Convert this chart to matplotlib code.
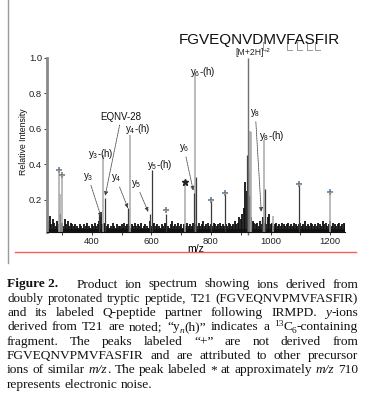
import matplotlib
matplotlib.use("Agg")
import matplotlib.pyplot as plt
import numpy as np
from matplotlib.lines import Line2D

plt.rcParams['font.family'] = ['Liberation Sans', 'DejaVu Sans']

W, H = 369, 397

# ---------------- data ----------------
noise_start, noise_step = 250, 5
noise_h = [
    0.10, 0.08, 0.11, 0.06, 0.09, 0.07, 0.05, 0.08, 0.06, 0.12, 0.07, 0.05, 0.09, 0.06, 0.08, 0.05, 0.07, 0.06, 0.05, 0.06,
    0.05, 0.04, 0.06, 0.05, 0.04, 0.06, 0.05, 0.07, 0.05, 0.04, 0.06, 0.05, 0.07, 0.05, 0.06, 0.08, 0.13, 0.06, 0.07, 0.06,
    0.05, 0.06, 0.04, 0.05, 0.07, 0.05, 0.04, 0.06, 0.05, 0.05, 0.06, 0.04, 0.07, 0.05, 0.06, 0.05, 0.04, 0.06, 0.05, 0.07,
    0.05, 0.06, 0.05, 0.07, 0.04, 0.05, 0.06, 0.05, 0.04, 0.08, 0.05, 0.06, 0.07, 0.05, 0.06, 0.05, 0.04, 0.06, 0.05, 0.07,
    0.06, 0.05, 0.04, 0.06, 0.08, 0.05, 0.06, 0.05, 0.07, 0.05, 0.06, 0.04, 0.06, 0.05, 0.07, 0.05, 0.06, 0.05, 0.07, 0.06,
    0.06, 0.05, 0.07, 0.05, 0.06, 0.08, 0.05, 0.06, 0.07, 0.05, 0.06, 0.05, 0.07, 0.06, 0.05, 0.06, 0.07, 0.05, 0.06, 0.05,
    0.06, 0.05, 0.07, 0.06, 0.05, 0.06, 0.08, 0.06, 0.07, 0.10, 0.09, 0.12, 0.15, 0.30, 0.25, 0.20, 0.22, 0.10, 0.08, 0.07,
    0.06, 0.07, 0.05, 0.08, 0.06, 0.10, 0.07, 0.06, 0.10, 0.12, 0.06, 0.07, 0.05, 0.06, 0.07, 0.05, 0.06, 0.05, 0.07, 0.06,
    0.05, 0.06, 0.07, 0.05, 0.06, 0.05, 0.07, 0.06, 0.05, 0.06, 0.07, 0.05, 0.06, 0.08, 0.05, 0.06, 0.05, 0.07, 0.06, 0.05,
    0.06, 0.05, 0.07, 0.06, 0.05, 0.08, 0.06, 0.07, 0.05, 0.06, 0.08, 0.05, 0.07, 0.06, 0.05, 0.06, 0.07, 0.05, 0.06, 0.07, 0.06,
]
noise_mz = noise_start + noise_step * np.arange(len(noise_h))
noise_floor = 0.036

# light (13C-labelled / gray) peaks
light_mz = [289, 292, 301, 439, 527, 713, 748, 930, 934, 978, 1201, 1010]
light_int = [0.35, 0.23, 0.32, 0.45, 0.565, 0.29, 0.915, 0.59, 0.58, 0.535, 0.225, 0.11]
# dark peaks
dark_mz = [426, 443, 523, 594, 602, 648, 742, 750, 802, 847, 920, 926, 971, 980, 1095]
dark_int = [0.12, 0.21, 0.15, 0.12, 0.37, 0.12, 0.24, 0.33, 0.19, 0.23, 0.45, 0.36, 0.09, 0.26, 0.28]
# precursor
prec_mz = [923]
prec_int = [1.0]

plus_mz = [289, 301, 648, 802, 847, 1095, 1201]
plus_int = [0.37, 0.34, 0.14, 0.20, 0.24, 0.29, 0.245]
star_mz, star_int = [713], [0.30]

# annotations: text, label position (mz, int), arrow target or None
labels = [
    ("EQNV-28", (499, 0.665), (445, 0.22)),
    ("y$\\mathregular{_4}$-(h)", (556, 0.60), None),
    ("y$\\mathregular{_3}$-(h)", (432, 0.46), None),
    ("y$\\mathregular{_5}$-(h)", (630, 0.395), None),
    ("y$\\mathregular{_3}$", (388, 0.33), (432, 0.10)),
    ("y$\\mathregular{_4}$", (482, 0.32), (522, 0.15)),
    ("y$\\mathregular{_5}$", (549, 0.29), (590, 0.13)),
    ("y$\\mathregular{_6}$", (710, 0.49), (741, 0.25)),
    ("y$\\mathregular{_6}$-(h)", (774, 0.92), None),
    ("y$\\mathregular{_8}$", (949, 0.69), (969, 0.13)),
    ("y$\\mathregular{_8}$-(h)", (1006, 0.56), None),
]

xticks_major = [400, 600, 800, 1000, 1200]
xticks_minor = [300, 500, 700, 900, 1100]
yticks = [0.2, 0.4, 0.6, 0.8, 1.0]

# ---------------- figure ----------------
fig = plt.figure(figsize=(W / 100, H / 100), dpi=100)
ax = fig.add_axes([47 / W, 1 - 232 / H, (345 - 47) / W, (232 - 58) / H])

ax.axhspan(0, noise_floor, color='#111111', lw=0)
ax.vlines(noise_mz, 0, noise_h, color='#111111', lw=1.3)
ax.vlines(light_mz, 0, light_int, color='#a8a8a8', lw=1.1)
ax.vlines(dark_mz, 0, dark_int, color='#3a3a3a', lw=0.9)
ax.vlines(prec_mz, 0, prec_int, color='#707070', lw=1.0, clip_on=False)

ax.plot(plus_mz, plus_int, ls='none', marker='+', ms=4.5, mew=1.1, color='#4a78a8', clip_on=False)
ax.plot(plus_mz, plus_int, ls='none', marker='_', ms=3.5, mew=0.9, color='#d08a40', clip_on=False)
ax.plot(star_mz, star_int, ls='none', marker='*', ms=4.5, color='#222222', clip_on=False)

for txt, pos, tgt in labels:
    if tgt is None:
        ax.text(pos[0], pos[1], txt, fontsize=7, ha='center', va='center', color='#111111')
    else:
        ax.annotate(txt, xy=tgt, xytext=pos, fontsize=7, ha='center', va='center', color='#111111',
                    arrowprops=dict(arrowstyle='-|>,head_length=0.35,head_width=0.15', linestyle=(0, (1, 1)),
                                    lw=0.6, color='#444444', shrinkA=0, shrinkB=0))

# precursor label: "[M+2H]" plus raised "+2"
ax.text(976, 1.003, "[M+2H]", fontsize=6.2, ha='right', va='bottom', color='#222222', clip_on=False)
ax.text(978, 1.027, "+2", fontsize=4.3, ha='left', va='bottom', color='#222222', clip_on=False)

ax.set_xlim(250, 1250)
ax.set_ylim(0.017, 1.0)
ax.set_xticks(xticks_major)
ax.set_xticklabels([str(v) for v in xticks_major])
ax.set_xticks(xticks_minor, minor=True)
ax.set_yticks(yticks)
ax.set_yticklabels([f"{v:.1f}" for v in yticks])
ax.tick_params(axis='both', which='both', labelsize=6.8, length=2, width=0.6, pad=1.5, colors='#222222')
for s in ['top', 'right']:
    ax.spines[s].set_visible(False)
ax.spines['left'].set_color('#8a8a8a')
ax.spines['left'].set_linewidth(2.0)
ax.spines['bottom'].set_color('#111111')
ax.spines['bottom'].set_linewidth(0.8)
ax.set_xlabel('m/z', fontsize=7.6, labelpad=-1.5)
fig.text(23 / W, 1 - 142 / H, 'Relative Intensity', fontsize=6.3, rotation=90, ha='center', va='center', color='#111111')

# title sequence
fig.text(259 / W, 1 - 44 / H, 'FGVEQNVDMVFASFIR', fontsize=11, ha='center', va='baseline', color='#111111')
for xl in [263, 287, 297, 307, 315]:
    fig.add_artist(Line2D([xl / W, xl / W, (xl + 5) / W], [1 - 42 / H, 1 - 49.5 / H, 1 - 49.5 / H],
                          transform=fig.transFigure, color='#999999', lw=0.7))

# page decorations
fig.add_artist(Line2D([8 / W, 8 / W], [1, 1 - 263 / H], transform=fig.transFigure, color='#9a9a9a', lw=1.0))
fig.add_artist(Line2D([15 / W, 356 / W], [1 - 252 / H, 1 - 252 / H], transform=fig.transFigure, color='#ff5a5a', lw=1.0))

# caption (justified).  Each word is a list of pieces: (text, style, weight, scale, dy_px)
def P(s, style='normal', weight='normal', scale=1.0, dy=0.0):
    return (s, style, weight, scale, dy)

def plain(line):
    return [[P(w)] for w in line.split()]

cap_lines = [
    [[P("Figure 2.", weight='bold')]] + plain("Product ion spectrum showing ions derived from"),
    plain("doubly protonated tryptic peptide, T21 (FGVEQNVPMVFASFIR)"),
    plain("and its labeled Q-peptide partner following IRMPD.") + [[P("y", style='italic'), P("-ions")]],
    plain("derived from T21 are noted;")
    + [[P("\u201cy"), P("n", style='italic', scale=0.7, dy=-2.5), P("(h)\u201d")]]
    + plain("indicates a")
    + [[P("13", scale=0.7, dy=4.0), P("C"), P("6", scale=0.7, dy=-2.5), P("-containing")]],
    plain("fragment. The peaks labeled \u201c+\u201d are not derived from"),
    plain("FGVEQNVPMVFASFIR and are attributed to other precursor"),
    plain("ions of similar") + [[P("m/z", style='italic'), P(".")]] + plain("The peak labeled * at approximately")
    + [[P("m/z", style='italic')]] + plain("710"),
    plain("represents electronic noise."),
]
baselines = [287.5, 301.8, 316.1, 330.4, 344.7, 359.0, 373.3, 387.6]
x0, x1 = 7, 358
min_gap = 3.0
renderer = fig.canvas.get_renderer()


def build(words, yb, fs):
    objs = []
    for word in words:
        pieces = []
        for s, st, wt, sc, dy in word:
            t = fig.text(0, 1 - (yb - dy) / H, s, fontsize=fs * sc, family='Liberation Serif', style=st,
                         weight=wt, va='baseline', ha='left', color='#111111')
            pieces.append((t, t.get_window_extent(renderer).width))
        objs.append(pieces)
    return objs


for li, (words, yb) in enumerate(zip(cap_lines, baselines)):
    fs = 9.6
    extra = 12 if li == 0 else 0
    last = li == len(cap_lines) - 1
    while True:
        objs = build(words, yb, fs)
        widths = [sum(w for _, w in pcs) for pcs in objs]
        if last:
            gap = 3.4
            break
        gap = (x1 - x0 - sum(widths) - extra) / (len(objs) - 1)
        if gap >= min_gap or fs < 7:
            break
        for pcs in objs:
            for t, _ in pcs:
                t.remove()
        fs -= 0.1
    x = x0
    for i, (pcs, w) in enumerate(zip(objs, widths)):
        xp = x
        for t, pw in pcs:
            t.set_x(xp / W)
            xp += pw
        x += w + gap + (extra if i == 0 else 0)

fig.savefig('out.png', dpi=100)
